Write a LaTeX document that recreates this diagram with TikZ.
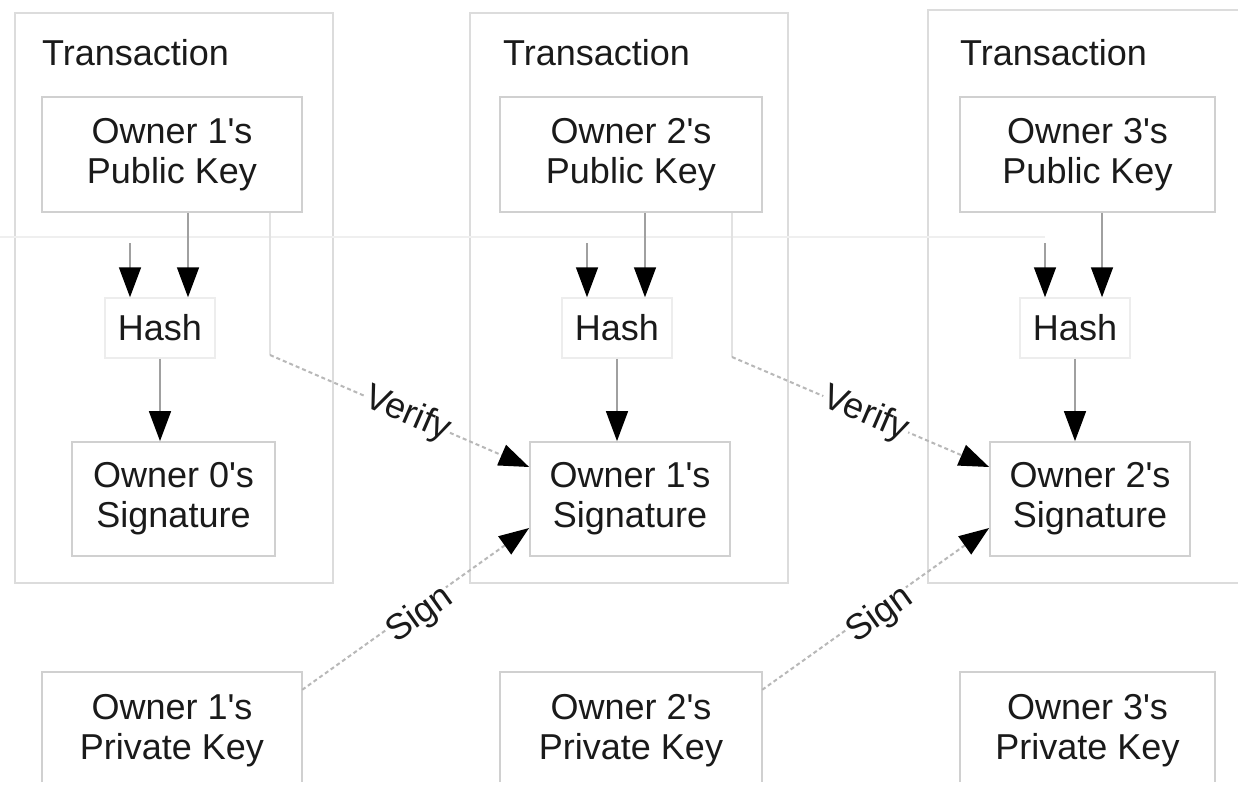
\documentclass[tikz,border=0pt]{standalone}
\usepackage{fontspec}
\newfontfamily\diagfont{Liberation Sans}
\usetikzlibrary{arrows.meta,calc}

\definecolor{inkcol}{HTML}{1A1A1A}
\definecolor{outerline}{HTML}{DCDCDC}
\definecolor{boxline}{HTML}{D0D0D0}
\definecolor{hashline}{HTML}{EDEDED}
\definecolor{shaftcol}{HTML}{A0A0A0}
\definecolor{dashcol}{HTML}{B8B8B8}
\definecolor{feedcol}{HTML}{EFEFEF}
\definecolor{dropcol}{HTML}{E2E2E2}

\tikzset{
  txframe/.style={draw=outerline, line width=1.8pt, inner sep=0pt},
  card/.style={draw=boxline, line width=1.8pt, align=center, inner sep=0pt, text=inkcol},
  plaincard/.style={align=center, inner sep=0pt, text=inkcol},
  hashbox/.style={draw=hashline, line width=1.5pt, align=center, inner sep=0pt, text=inkcol,
    minimum width=110pt, minimum height=60pt},
  txtitle/.style={anchor=base west, inner sep=0pt, text=inkcol},
  flow/.style={draw=shaftcol, line width=1.6pt, -{Triangle[length=30pt,width=22pt,color=black]}},
  feed/.style={draw=feedcol, line width=1.6pt},
  drop/.style={draw=dropcol, line width=1.6pt},
  keylink/.style={draw=dashcol, line width=2pt, dash pattern=on 4pt off 3pt,
    -{Triangle[length=30pt,width=22pt,color=black]}},
  linklabel/.style={sloped, fill=white, inner sep=1pt, text=inkcol},
}

\begin{document}
\begin{tikzpicture}[x=1pt, y=-1pt, font=\diagfont\fontsize{36}{40}\selectfont]
\useasboundingbox (0,0) rectangle (1238,796);
\fill[white] (0,0) rectangle (1238,796);

% ---- transaction frames ----
\node[txframe, minimum width=318pt, minimum height=570pt] (tx1) at (174,298) {};
\node[txframe, minimum width=318pt, minimum height=570pt] (tx2) at (629,298) {};
\node[inner sep=0pt, minimum width=310pt, minimum height=573pt] (tx3) at (1083,296.5) {};
\draw[draw=outerline, line width=1.8pt] (tx3.north east) -- (tx3.north west) -- (tx3.south west) -- (tx3.south east);

\node[txtitle] (title1) at (42,65) {Transaction};
\node[txtitle] (title2) at (503,65) {Transaction};
\node[txtitle] (title3) at (960,65) {Transaction};

% ---- public keys ----
\node[card, minimum width=260pt, minimum height=115pt] (pub1) at (172,154.5) {Owner 1's\\Public Key};
\node[card, minimum width=262pt, minimum height=115pt] (pub2) at (631,154.5) {Owner 2's\\Public Key};
\node[card, minimum width=255pt, minimum height=115pt] (pub3) at (1087.5,154.5) {Owner 3's\\Public Key};

% ---- hashes ----
\node[hashbox] (hash1) at (160,328) {Hash};
\node[hashbox] (hash2) at (617,328) {Hash};
\node[hashbox] (hash3) at (1075,328) {Hash};

% ---- signatures ----
\node[card, minimum width=203pt, minimum height=114pt] (sig1) at (173.5,499) {Owner 0's\\Signature};
\node[card, minimum width=200pt, minimum height=114pt] (sig2) at (630,499) {Owner 1's\\Signature};
\node[card, minimum width=200pt, minimum height=114pt] (sig3) at (1090,499) {Owner 2's\\Signature};

% ---- private keys (open at the bottom) ----
\node[plaincard, minimum width=260pt, minimum height=118pt] (priv1) at (172,731) {Owner 1's\\Private Key};
\node[plaincard, minimum width=262pt, minimum height=118pt] (priv2) at (631,731) {Owner 2's\\Private Key};
\node[plaincard, minimum width=255pt, minimum height=118pt] (priv3) at (1087.5,731) {Owner 3's\\Private Key};
\foreach \p in {priv1,priv2,priv3}{
  \draw[draw=boxline, line width=1.8pt] ($(\p.south west)+(0,-8)$) |- (\p.north east) -- ($(\p.south east)+(0,-8)$);
}

% ---- chain feed into each hash ----
\coordinate (feed0) at (0,237);
\coordinate (f1) at (130,237);
\coordinate (f2) at (587,237);
\coordinate (f3) at (1045,237);
\draw[feed] (feed0) -- (f3);
\draw[flow] ($(f1)+(0,6)$) -- (f1 |- hash1.north);
\draw[flow] ($(f2)+(0,6)$) -- (f2 |- hash2.north);
\draw[flow] ($(f3)+(0,6)$) -- (f3 |- hash3.north);

% ---- public key into hash ----
\draw[flow] ($(pub1.south)+(16,0)$) -- ($(hash1.north)+(28,0)$);
\draw[flow] ($(pub2.south)+(14,0)$) -- ($(hash2.north)+(28,0)$);
\draw[flow] ($(pub3.south)+(14.5,0)$) -- ($(hash3.north)+(27,0)$);

% ---- hash into signature ----
\draw[flow] (hash1.south) -- (hash1.south |- sig1.north);
\draw[flow] (hash2.south) -- (hash2.south |- sig2.north);
\draw[flow] (hash3.south) -- (hash3.south |- sig3.north);

% ---- verify links: drop from the public key, then across ----
\coordinate (v1) at (270,355);
\coordinate (v2) at (732,357);
\draw[drop] (pub1.south -| v1) -- (v1);
\draw[drop] (pub2.south -| v2) -- (v2);
\draw[keylink] (v1) -- node[linklabel, pos=0.53] {Verify} ($(sig2.west)+(0,-32)$);
\draw[keylink] (v2) -- node[linklabel, pos=0.52] {Verify} ($(sig3.west)+(0,-32)$);

% ---- sign links ----
\draw[keylink] ($(priv1.north east)+(0,18)$) -- node[linklabel, midway, yshift=-8pt] {Sign} ($(sig2.west)+(0,29)$);
\draw[keylink] ($(priv2.north east)+(0,18)$) -- node[linklabel, midway, yshift=-8pt] {Sign} ($(sig3.west)+(0,29)$);
\end{tikzpicture}
\end{document}
